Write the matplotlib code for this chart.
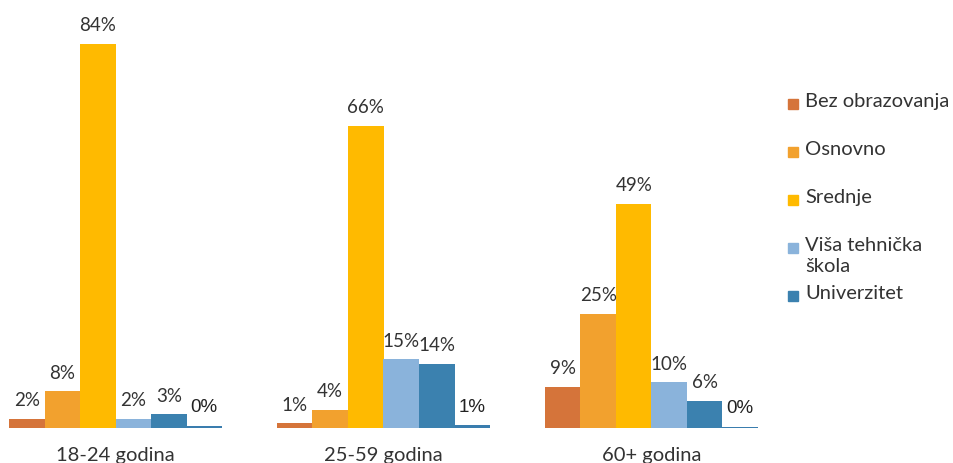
import matplotlib.pyplot as plt
import numpy as np
from matplotlib.patches import Rectangle

plt.rcParams['font.family'] = ['Lato', 'DejaVu Sans']

groups = ['18-24 godina', '25-59 godina', '60+ godina']
series = ['Bez obrazovanja', 'Osnovno', 'Srednje', 'Viša tehnička\nškola', 'Univerzitet', '']
values = [
    [2, 1, 9],       # Bez obrazovanja
    [8, 4, 25],      # Osnovno
    [84, 66, 49],    # Srednje
    [2, 15, 10],     # Viša tehnička škola
    [3, 14, 6],      # Univerzitet
    [0.4, 0.6, 0.2],  # ostalo (bez legende)
]
labels = [
    ['2%', '1%', '9%'],
    ['8%', '4%', '25%'],
    ['84%', '66%', '49%'],
    ['2%', '15%', '10%'],
    ['3%', '14%', '6%'],
    ['0%', '1%', '0%'],
]
colors = ['#D5743A', '#F2A12E', '#FFBA00', '#8AB3DB', '#3B81AF', '#3A7DAE']

fig = plt.figure(figsize=(9.54, 4.63), dpi=100)
ax = fig.add_axes([9 / 954, 35 / 463, 749 / 954, 428 / 463])

x = np.arange(len(groups))
w = 0.1325
for i, (vals, labs, c) in enumerate(zip(values, labels, colors)):
    pos = x + (i - 2.5) * w
    ax.bar(pos, vals, width=w, color=c, edgecolor='none')
    for p, v, t in zip(pos, vals, labs):
        if i == 5:
            # zadnja serija ima drugi font u originalu
            ax.annotate(t, (p, v), xytext=(0, 7), textcoords='offset points',
                        ha='center', va='bottom', fontsize=13.5, color='#222222',
                        family=['Liberation Sans'])
        else:
            ax.annotate(t, (p, v), xytext=(0, 7), textcoords='offset points',
                        ha='center', va='bottom', fontsize=13.5, color='#333333')

ax.set_xlim(-0.3975, 2.3975)
ax.set_ylim(0, 93.6)
ax.set_xticks(x)
ax.set_xticklabels(groups, fontsize=14.5, color='#333333')
ax.tick_params(axis='x', length=0, pad=14)
ax.set_yticks([])
for s in ax.spines.values():
    s.set_visible(False)

# legenda
for i, (name, c) in enumerate(zip(series[:5], colors[:5])):
    yc = 1 - (104 + 48 * i) / 463
    fig.add_artist(Rectangle((788 / 954, yc - 5 / 463), 10 / 954, 10 / 463,
                             transform=fig.transFigure, color=c))
    fig.text(805 / 954, yc + 11 / 463, name, fontsize=14.5, color='#333333',
             va='top', ha='left', linespacing=1.3)

fig.savefig('out.png', dpi=100)
